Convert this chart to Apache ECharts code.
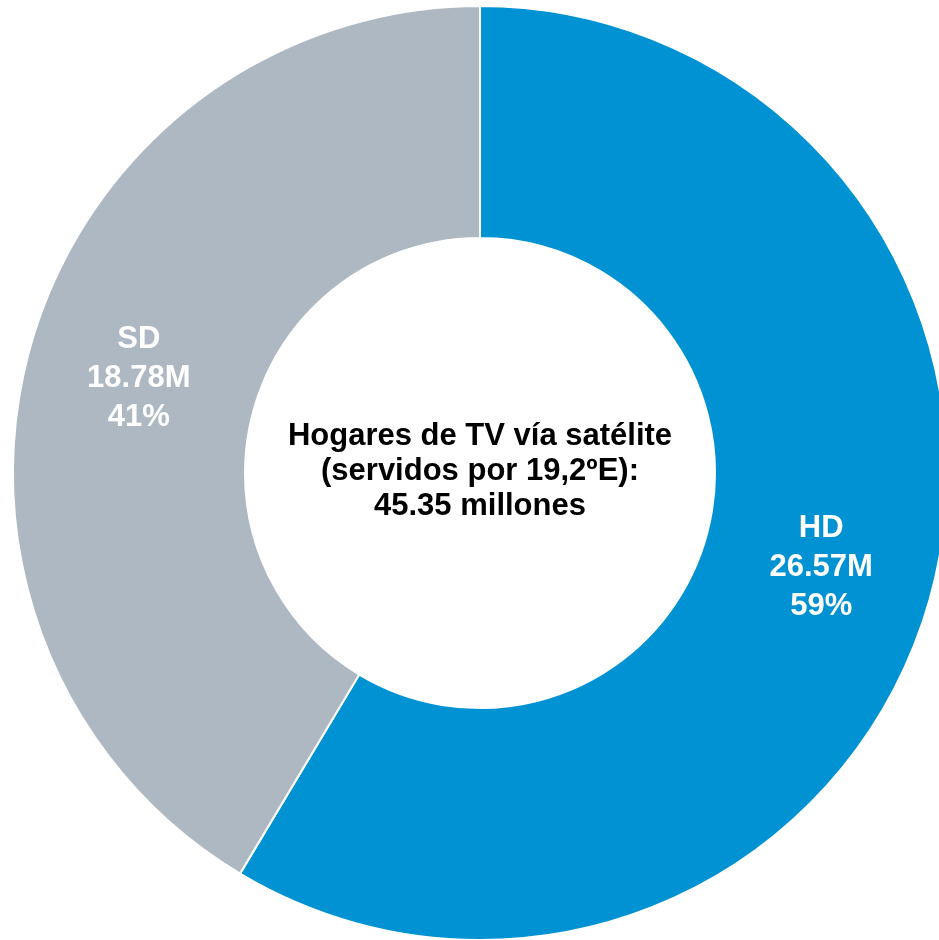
<!DOCTYPE html>
<html>
<head>
<meta charset="utf-8">
<script src="https://cdn.jsdelivr.net/npm/echarts@6/dist/echarts.min.js"></script>
<style>
  html, body { margin: 0; padding: 0; background: #ffffff; }
  #chart { width: 939px; height: 940px; }
</style>
</head>
<body>
<div id="chart"></div>
<script>
const categories = ['HD', 'SD'];
const values = [26.57, 18.78];
const colors = ['#0092D2', '#AEB8C2'];
const centerLines = ['Hogares de TV vía satélite', '(servidos por 19,2ºE):'];

const total = values.reduce((a, b) => a + b, 0);

const chart = echarts.init(document.getElementById('chart'), null, { renderer: 'canvas' });
chart.setOption({
  animation: false,
  backgroundColor: '#ffffff',
  graphic: [{
    type: 'text',
    x: 480,
    y: 471,
    style: {
      text: centerLines.concat([total.toFixed(2) + ' millones']).join('\n'),
      fill: '#000000',
      font: 'bold 31px "Liberation Sans", Arial, sans-serif',
      lineHeight: 35,
      align: 'center',
      verticalAlign: 'middle'
    }
  }],
  series: [{
    type: 'pie',
    center: [480, 473],
    radius: [235, 467],
    startAngle: 90,
    clockwise: true,
    label: {
      show: true,
      position: 'inside',
      color: '#ffffff',
      fontFamily: '"Liberation Sans", Arial, sans-serif',
      fontWeight: 'bold',
      fontSize: 31,
      lineHeight: 39,
      formatter: p => p.name + '\n' + p.value.toFixed(2) + 'M\n' + Math.round(p.percent) + '%'
    },
    labelLine: { show: false },
    itemStyle: { borderColor: '#ffffff', borderWidth: 2 },
    emphasis: { disabled: true },
    data: categories.map((c, i) => ({ name: c, value: values[i], itemStyle: { color: colors[i] } }))
  }]
});
</script>
</body>
</html>
